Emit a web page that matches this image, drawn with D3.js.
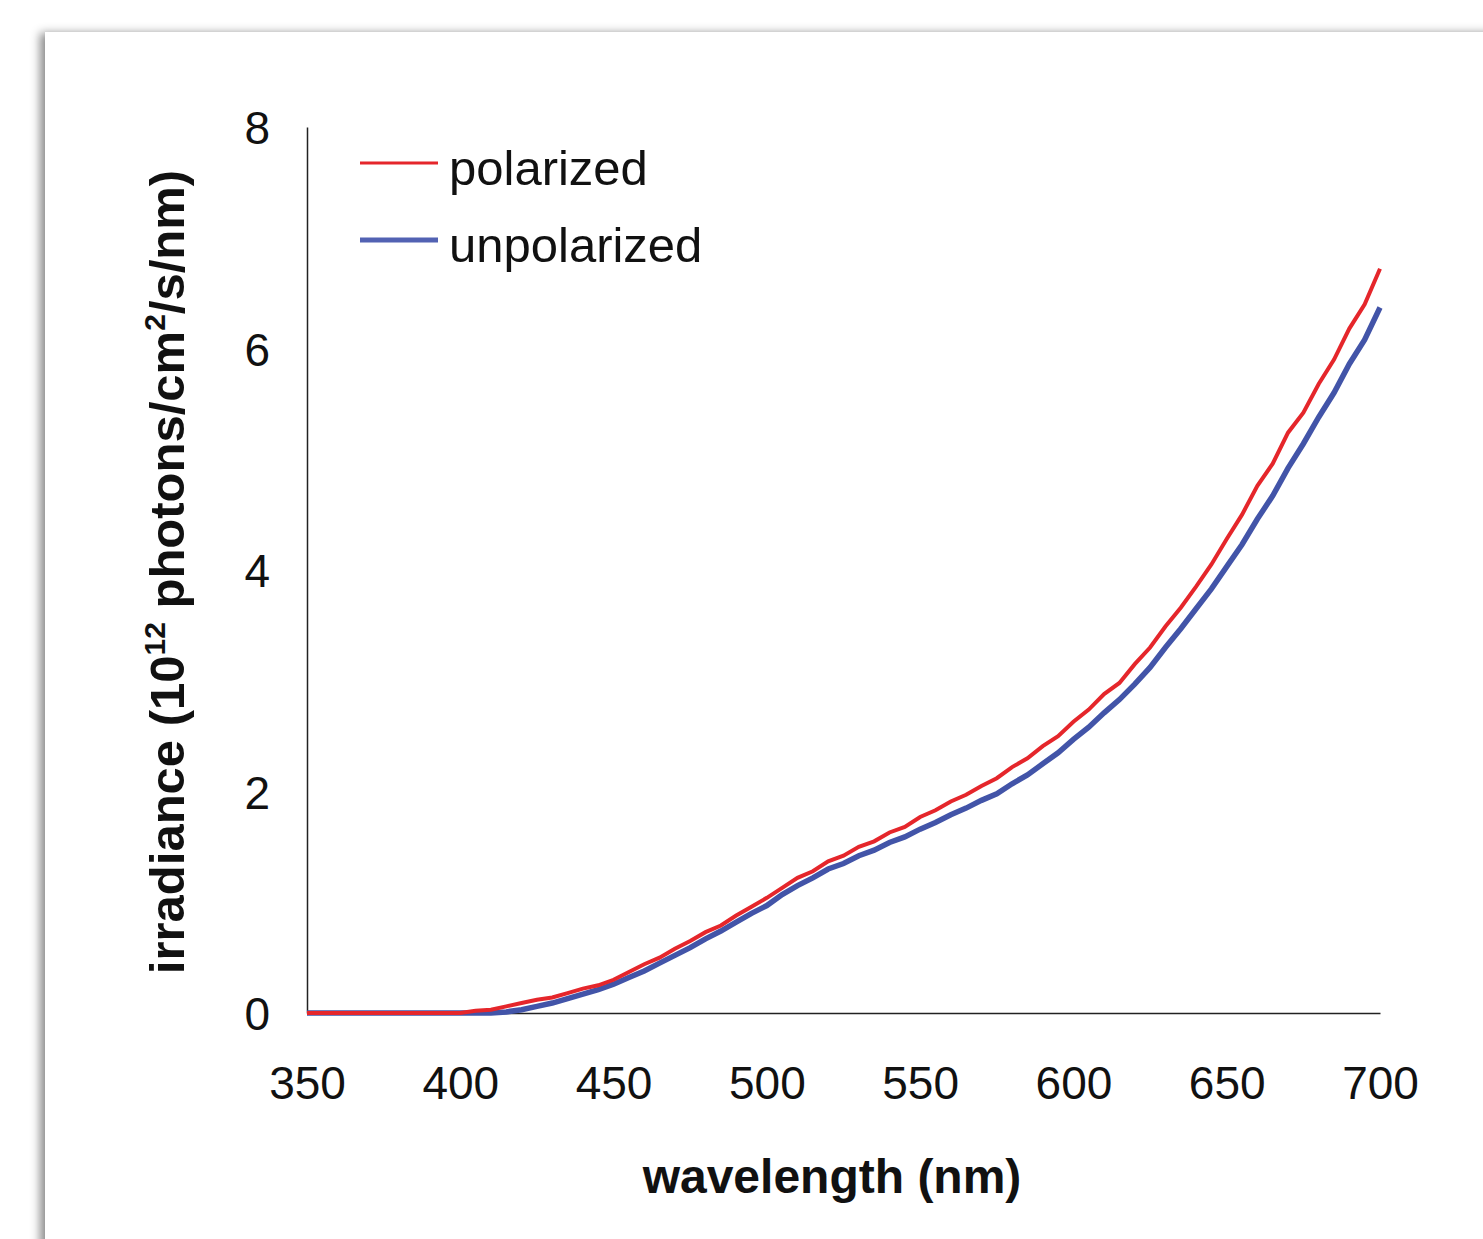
<!DOCTYPE html>
<html>
<head>
<meta charset="utf-8">
<script src="https://cdn.jsdelivr.net/npm/d3@7"></script>
<style>
  body { margin: 0; background: #fff; overflow: hidden; }
  #card {
    position: absolute; left: 45px; top: 32px; width: 1500px; height: 1300px;
    background: #fff; box-shadow: -5px 1px 9px rgba(0,0,0,0.45);
  }
  #chart { position: absolute; left: 0; top: 0; }
  text { font-family: "Liberation Sans", Arial, sans-serif; fill: #111; }
</style>
</head>
<body>
<div id="card"></div>
<div id="chart"></div>
<script>
// wavelength grid (nm), 5 nm steps
const wavelengths = d3.range(350, 701, 5);

// irradiance, 10^12 photons/cm2/s/nm
const polarized = [
  0, 0, 0, 0, 0, 0, 0, 0, 0, 0,
  0.00, 0.02, 0.03, 0.06, 0.09, 0.12, 0.14, 0.18, 0.22, 0.25,
  0.30, 0.37, 0.44, 0.50, 0.58, 0.65, 0.73, 0.79, 0.88, 0.96,
  1.04, 1.13, 1.22, 1.28, 1.37, 1.42, 1.50, 1.55, 1.63, 1.68,
  1.77, 1.83, 1.91, 1.97, 2.05, 2.12, 2.22, 2.30, 2.41, 2.50,
  2.63, 2.74, 2.88, 2.98, 3.15, 3.30, 3.49, 3.66, 3.85, 4.05,
  4.28, 4.50, 4.76, 4.96, 5.24, 5.42, 5.68, 5.90, 6.18, 6.40,
  6.72
];
const unpolarized = [
  0, 0, 0, 0, 0, 0, 0, 0, 0, 0,
  0, 0, 0, 0.01, 0.03, 0.06, 0.09, 0.13, 0.17, 0.21,
  0.26, 0.32, 0.38, 0.45, 0.52, 0.59, 0.67, 0.74, 0.82, 0.90,
  0.97, 1.07, 1.15, 1.22, 1.30, 1.35, 1.42, 1.47, 1.54, 1.59,
  1.66, 1.72, 1.79, 1.85, 1.92, 1.98, 2.07, 2.15, 2.25, 2.35,
  2.47, 2.58, 2.71, 2.83, 2.97, 3.12, 3.30, 3.47, 3.65, 3.83,
  4.03, 4.23, 4.46, 4.67, 4.92, 5.14, 5.38, 5.60, 5.86, 6.08,
  6.37
];

const xTicks = [350, 400, 450, 500, 550, 600, 650, 700];
const yTicks = [0, 2, 4, 6, 8];
const seriesNames = ["polarized", "unpolarized"];
const seriesColors = ["#e5262b", "#4254a8"];

const W = 1483, H = 1239;
const margin = {left: 307, right: 103, top: 127, bottom: 226};

const svg = d3.select('#chart').append('svg')
  .attr('width', W).attr('height', H);

const x = d3.scaleLinear().domain([350, 700]).range([margin.left, W - margin.right]);
const y = d3.scaleLinear().domain([0, 8]).range([H - margin.bottom, margin.top]);

// axes, no tick marks
const xAxis = svg.append('g')
  .attr('transform', 'translate(0,' + y(0) + ')')
  .call(d3.axisBottom(x).tickValues(xTicks).tickSize(0).tickPadding(0));
xAxis.select('.domain').attr('stroke', '#222').attr('stroke-width', 1.5);
xAxis.selectAll('text')
  .attr('dy', null).attr('y', 86)
  .style('font-size', '46px').style('font-family', '"Liberation Sans", Arial, sans-serif')
  .attr('fill', '#111');

const yAxis = svg.append('g')
  .attr('transform', 'translate(' + x(350) + ',0)')
  .call(d3.axisLeft(y).tickValues(yTicks).tickSize(0).tickPadding(0));
yAxis.select('.domain').attr('stroke', '#222').attr('stroke-width', 1.5);
yAxis.selectAll('text')
  .attr('x', -37).attr('dy', '0.36em')
  .style('font-size', '46px').style('font-family', '"Liberation Sans", Arial, sans-serif')
  .attr('fill', '#111');

// lines
const line = d3.line()
  .x((d, i) => x(wavelengths[i]))
  .y(d => y(d));

svg.append('path')
  .datum(unpolarized)
  .attr('d', line)
  .attr('fill', 'none')
  .attr('stroke', seriesColors[1])
  .attr('stroke-width', 5.5)
  .attr('stroke-linejoin', 'miter');

svg.append('path')
  .datum(polarized)
  .attr('d', line)
  .attr('fill', 'none')
  .attr('stroke', seriesColors[0])
  .attr('stroke-width', 4)
  .attr('stroke-linejoin', 'miter');

// legend
const legend = svg.append('g');
seriesNames.forEach((name, i) => {
  const ly = 163 + i * 77;
  legend.append('line')
    .attr('x1', 360).attr('x2', 438).attr('y1', ly).attr('y2', ly)
    .attr('stroke', i === 0 ? seriesColors[0] : '#5262b3')
    .attr('stroke-width', i === 0 ? 3 : 5);
  legend.append('text')
    .attr('x', 449).attr('y', ly + 22)
    .style('font-size', '49px')
    .text(name);
});

// axis titles
svg.append('text')
  .attr('x', 832).attr('y', 1193)
  .attr('text-anchor', 'middle')
  .style('font-size', '48px').style('font-weight', 'bold')
  .text('wavelength (nm)');

const yt = svg.append('text')
  .attr('transform', 'translate(184,572) rotate(-90)')
  .attr('text-anchor', 'middle')
  .style('font-size', '49px').style('font-weight', 'bold');
yt.append('tspan').text('irradiance (10');
yt.append('tspan').attr('dy', -19).style('font-size', '30px').text('12');
yt.append('tspan').attr('dy', 19).text(' photons/cm');
yt.append('tspan').attr('dy', -19).style('font-size', '30px').text('2');
yt.append('tspan').attr('dy', 19).text('/s/nm)');
</script>
</body>
</html>
